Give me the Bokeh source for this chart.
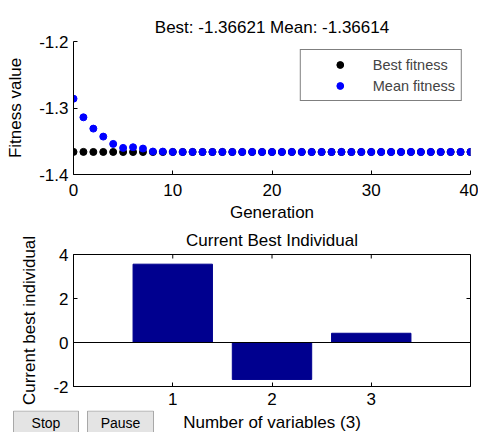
from math import pi
from bokeh.plotting import figure
from bokeh.layouts import column, row
from bokeh.models import Range1d, FixedTicker, Span, CustomJSTickFormatter
from bokeh.core.properties import value
from bokeh.embed import file_html
from bokeh.resources import INLINE

# ---- data ----
generations = list(range(41))
best_fitness = [-1.3660, -1.3660, -1.3661, -1.3661, -1.3661, -1.3662, -1.3662, -1.3662,
                -1.36621, -1.36621, -1.36621, -1.36621, -1.36621, -1.36621, -1.36621, -1.36621,
                -1.36621, -1.36621, -1.36621, -1.36621, -1.36621, -1.36621, -1.36621, -1.36621,
                -1.36621, -1.36621, -1.36621, -1.36621, -1.36621, -1.36621, -1.36621, -1.36621,
                -1.36621, -1.36621, -1.36621, -1.36621, -1.36621, -1.36621, -1.36621, -1.36621,
                -1.36621]
mean_fitness = [-1.286, -1.314, -1.331, -1.343, -1.354, -1.360, -1.359, -1.361,
                -1.3655, -1.3656, -1.3660, -1.3661, -1.3660, -1.3661, -1.3661, -1.3660,
                -1.3661, -1.3661, -1.3660, -1.3661, -1.3661, -1.3661, -1.3660, -1.3661,
                -1.3661, -1.3661, -1.3661, -1.3660, -1.3661, -1.3661, -1.3661, -1.3661,
                -1.3661, -1.3661, -1.3660, -1.3661, -1.3661, -1.3661, -1.3661, -1.3661,
                -1.36614]
gen_ticks = [0, 10, 20, 30, 40]
fit_ticks = [-1.4, -1.3, -1.2]

variables = [1, 2, 3]
best_individual = [3.56, -1.68, 0.42]
var_ticks = [1, 2, 3]
ind_ticks = [-2, 0, 2, 4]

button_labels = ["Stop", "Pause"]

FONT = "Liberation Sans"
FS = "17px"


def style_axis(ax, ticks, digits, label_standoff, axis_label_standoff):
    ax.ticker = FixedTicker(ticks=ticks)
    ax.formatter = CustomJSTickFormatter(code="return tick.toFixed(%d)" % digits)
    ax.major_tick_in = 4
    ax.major_tick_out = 0
    ax.minor_tick_line_color = None
    ax.axis_line_color = "black"
    ax.major_tick_line_color = "black"
    ax.major_label_text_font = FONT
    ax.major_label_text_font_size = FS
    ax.major_label_text_color = "black"
    ax.major_label_standoff = label_standoff
    ax.axis_label_text_font = FONT
    ax.axis_label_text_font_size = FS
    ax.axis_label_text_font_style = "normal"
    ax.axis_label_text_color = "black"
    ax.axis_label_standoff = axis_label_standoff


def style_title(p, text):
    p.title.text = text
    p.title.align = "center"
    p.title.text_font = FONT
    p.title.text_font_size = FS
    p.title.text_font_style = "normal"
    p.title.text_color = "black"
    p.title.standoff = 9


# ---- top: fitness ----
p1 = figure(width=478, height=224, x_range=Range1d(0, 40), y_range=Range1d(-1.4, -1.2),
            output_backend="svg", toolbar_location=None,
            min_border_left=73, min_border_right=8, min_border_top=41, min_border_bottom=50)
style_title(p1, "Best: -1.36621 Mean: -1.36614")
p1.outline_line_color = None
p1.grid.visible = False
p1.xaxis.axis_label = "Generation"
p1.yaxis.axis_label = "Fitness value"
style_axis(p1.xaxis[0], gen_ticks, 0, 9, 4)
style_axis(p1.yaxis[0], fit_ticks, 1, 5, 11)

p1.scatter(generations, best_fitness, size=7, color="black", legend_label="Best fitness")
p1.scatter(generations, mean_fitness, size=7, color="#0000ff", legend_label="Mean fitness")
lg = p1.legend[0]
lg.location = "top_right"
lg.margin = 8
lg.padding = 6
lg.spacing = 4
lg.glyph_width = 66
lg.glyph_height = 17
lg.label_height = 17
lg.label_standoff = 0
lg.label_text_font = FONT
lg.label_text_font_size = "14.5px"
lg.border_line_color = "black"
lg.border_line_width = 1
lg.background_fill_color = "white"
lg.background_fill_alpha = 1

# ---- bottom: current best individual ----
p2 = figure(width=478, height=186, x_range=Range1d(0, 4), y_range=Range1d(-2, 4),
            output_backend="svg", toolbar_location=None,
            min_border_left=73, min_border_right=8, min_border_top=29, min_border_bottom=24)
style_title(p2, "Current Best Individual")
p2.outline_line_color = "black"
p2.outline_line_width = 1
p2.grid.visible = False
p2.yaxis.axis_label = "Current best individual"
style_axis(p2.xaxis[0], var_ticks, 0, 6, 0)
style_axis(p2.yaxis[0], ind_ticks, 0, 5, 11)

p2.vbar(x=variables, top=best_individual, bottom=0, width=0.8,
        fill_color="#00008f", line_color="#00008f")
p2.add_layout(Span(location=0, dimension="width", line_color="black", line_width=1))

# mirrored inward ticks on the top and right edges of the box (half clipped by the frame)
p2.scatter(x=var_ticks, y=[p2.y_range.end] * len(var_ticks), marker="dash", size=8,
           angle=pi / 2, line_color="black", line_width=1)
p2.scatter(x=[p2.x_range.end] * len(ind_ticks), y=ind_ticks, marker="dash", size=8,
           line_color="black", line_width=1)

# ---- strip below: GUI buttons + x axis title (pixel coordinates) ----
p3 = figure(width=478, height=22, x_range=Range1d(0, 478), y_range=Range1d(0, 22),
            output_backend="svg", toolbar_location=None,
            min_border=0, min_border_left=0, min_border_right=0,
            min_border_top=0, min_border_bottom=0, outline_line_color=None)
if "frame_align" in p3.properties():
    p3.frame_align = False
p3.axis.visible = False
p3.grid.visible = False
p3.quad(left=[13, 87], right=[78, 153], bottom=[-6, -6], top=[21.5, 21.5],
        fill_color="#e4e4e4", line_color="#a8a8a8", line_width=1)
p3.text(x=[45.5, 120], y=[10, 10], text=button_labels, text_align="center",
        text_baseline="middle", text_font=value(FONT), text_font_size="14px",
        text_color="black")
p3.text(x=[271.5], y=[10], text=["Number of variables (3)"], text_align="center",
        text_baseline="middle", text_font=value(FONT), text_font_size=FS,
        text_color="black")

layout = column(p1, p2, row(p3))
open("out.html", "w").write(file_html(layout, INLINE))
